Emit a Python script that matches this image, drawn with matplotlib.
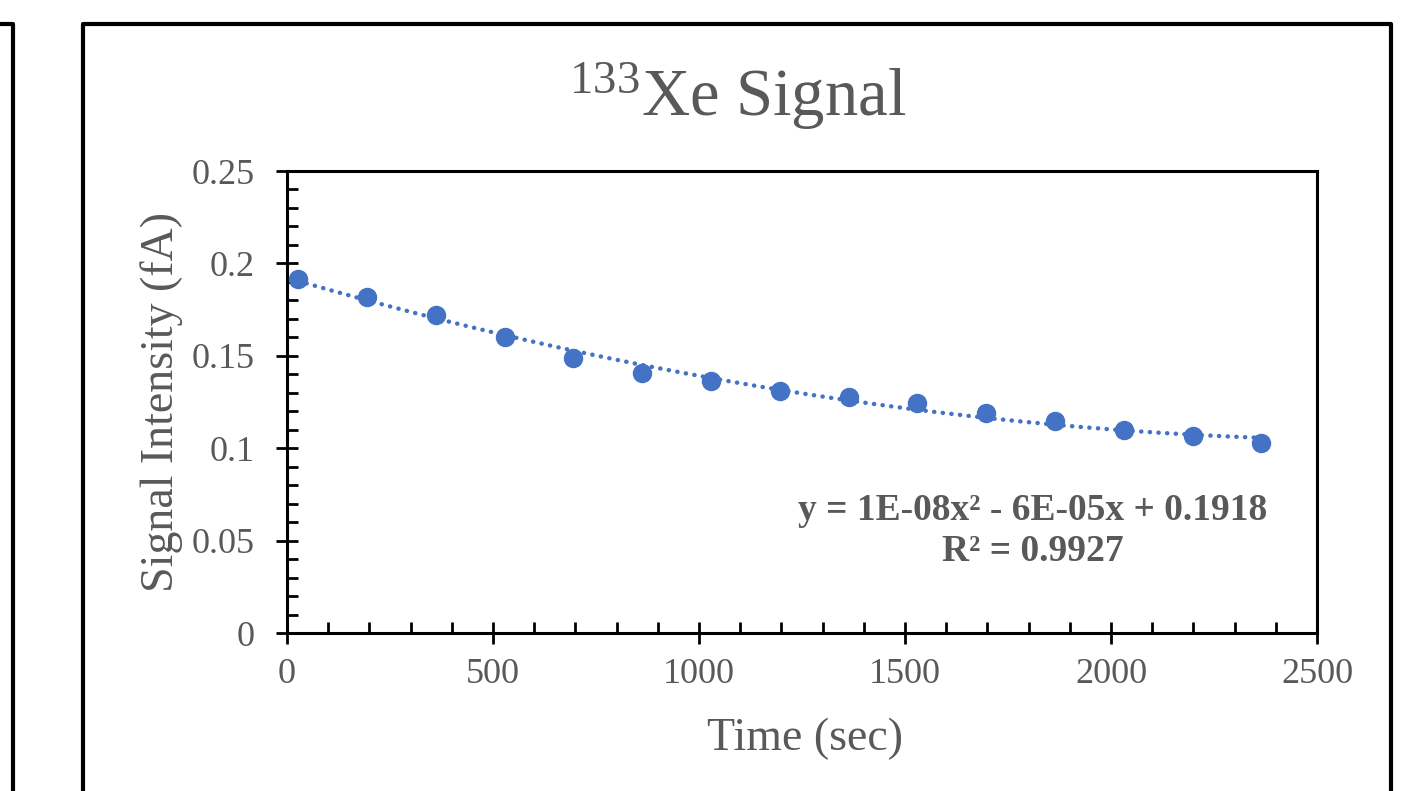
import matplotlib.pyplot as plt
from matplotlib.lines import Line2D
from matplotlib.ticker import MultipleLocator
import numpy as np

plt.rcParams['font.family'] = ['Liberation Serif', 'DejaVu Serif']
plt.rcParams['mathtext.fontset'] = 'custom'
plt.rcParams['mathtext.rm'] = 'Liberation Serif'

time_sec = [27, 194, 361, 528, 695, 862, 1029, 1196, 1363, 1530, 1697, 1864, 2031, 2198, 2365]
signal_fA = [0.1916, 0.1818, 0.1721, 0.1602, 0.1488, 0.1407, 0.1364, 0.1311,
             0.1279, 0.1243, 0.1189, 0.1149, 0.1098, 0.1066, 0.1027]

title = r'$\mathregular{^{133}}$Xe Signal'
x_label = 'Time (sec)'
y_label = 'Signal Intensity (fA)'
eq_text = 'y = 1E-08x² - 6E-05x + 0.1918'
r2_text = 'R² = 0.9927'

GRAY = '#595959'
BLUE = '#4472C4'

W, H = 1403, 791
fig = plt.figure(figsize=(W / 100, H / 100), dpi=100)
ax = fig.add_axes([287 / W, 1 - 633 / H, (1317 - 287) / W, (633 - 171) / H])

# 2차 다항식 추세선
coef = np.polyfit(time_sec, signal_fA, 2)
xs = np.linspace(time_sec[0], time_sec[-1], 200)
ax.plot(xs, np.polyval(coef, xs), color=BLUE, lw=3.2, linestyle=(0, (0.05, 1.9)),
        dash_capstyle='round', zorder=2)
ax.plot(time_sec, signal_fA, 'o', color=BLUE, markersize=13, zorder=3)

ax.set_xlim(0, 2500)
ax.set_ylim(0, 0.25)
ax.xaxis.set_major_locator(MultipleLocator(500))
ax.xaxis.set_minor_locator(MultipleLocator(100))
ax.yaxis.set_minor_locator(MultipleLocator(0.01))
ax.set_yticks([0, 0.05, 0.1, 0.15, 0.2, 0.25])
ax.set_yticklabels(['0', '0.05', '0.1', '0.15', '0.2', '0.25'])

for s in ax.spines.values():
    s.set_linewidth(2.2)
    s.set_color('black')

ax.tick_params(axis='both', which='major', direction='inout', length=16, width=2,
               labelsize=26, labelcolor=GRAY)
ax.tick_params(axis='x', which='major', pad=10)
ax.tick_params(axis='y', which='major', pad=15)
ax.tick_params(axis='both', which='minor', direction='in', length=8, width=2)

ax.set_xlabel(x_label, fontsize=33, color=GRAY)
ax.set_ylabel(y_label, fontsize=33, color=GRAY)
ax.xaxis.set_label_coords(0.503, -0.183)
ax.yaxis.set_label_coords(-0.101, 0.5)

ax.text(0.724, 0.266, eq_text, transform=ax.transAxes, ha='center', va='center',
        fontsize=27, fontweight='bold', color=GRAY)
ax.text(0.724, 0.177, r2_text, transform=ax.transAxes, ha='center', va='center',
        fontsize=27, fontweight='bold', color=GRAY)

fig.text(738 / W, 1 - 96 / H, title, ha='center', va='center', fontsize=48, color=GRAY)

# 바깥 테두리
lw = 3
fig.add_artist(Line2D([83 / W, 83 / W, 1391 / W, 1391 / W], [0, 1 - 24 / H, 1 - 24 / H, 0],
                      transform=fig.transFigure, color='black', lw=lw))
fig.add_artist(Line2D([0, 13 / W, 13 / W], [1 - 24 / H, 1 - 24 / H, 0],
                      transform=fig.transFigure, color='black', lw=lw))

fig.savefig('out.png', dpi=100)
